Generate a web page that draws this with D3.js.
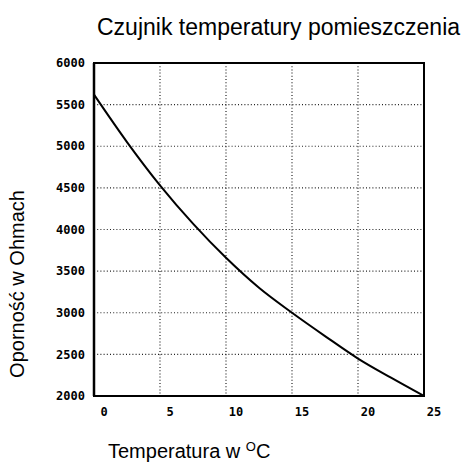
<!DOCTYPE html>
<html>
<head>
<meta charset="utf-8" />
<title>Czujnik temperatury pomieszczenia</title>
<style>
html, body {
	margin:0;
	padding:0;
	background:#ffffff;
}
svg {
	display:block;
	font-family: 'Liberation Sans', Arial, sans-serif;
}
.tick-label {
	font-family: 'DejaVu Sans Mono', monospace;
	font-weight: bold;
	font-size: 12px;
	fill: #000;
}
</style>
</head>
<body>

<script src="https://cdn.jsdelivr.net/npm/d3@7/dist/d3.min.js"></script>
<script>

//=======================================
// data
//=======================================

let temps       = [0, 2.5, 5, 7.5, 10, 12.5, 15, 17.5, 20, 22.5, 25];
let resistances = [5620, 5050, 4530, 4070, 3660, 3300, 3000, 2720, 2450, 2220, 2000];

let xTicks = [0, 5, 10, 15, 20, 25];
let yTicks = [2000, 2500, 3000, 3500, 4000, 4500, 5000, 5500, 6000];

let title  = 'Czujnik temperatury pomieszczenia',
		yTitle = 'Oporność w Ohmach',
		xTitle = 'Temperatura w ';


//=======================================
// chart
//=======================================

let width = 473,
		height = 464,
		margin = {top:63, left:94, right:49, bottom:68},
		w = width - margin.left - margin.right,
		h = height - margin.top - margin.bottom;

let x = d3.scaleLinear().domain([0,25]).range([0,w]),
		y = d3.scaleLinear().domain([2000,6000]).range([h,0]);

let data = temps.map((t,i)=>({t:t, r:resistances[i]}));

let svg = d3.select('body')
	.append('svg')
		.attr('width', width)
		.attr('height', height);

let g = svg.append('g')
	.attr('transform','translate('+[margin.left, margin.top]+')');


// grid
g.append('g').attr('class','grid')
	.call(sel=>{

		sel.selectAll('line.gx').data(xTicks.slice(1,-1))
			.enter()
				.append('line')
					.attr('class','gx')
					.attr('x1',d=>x(d)).attr('x2',d=>x(d))
					.attr('y1',0).attr('y2',h);

		sel.selectAll('line.gy').data(yTicks.slice(1,-1))
			.enter()
				.append('line')
					.attr('class','gy')
					.attr('x1',0).attr('x2',w)
					.attr('y1',d=>y(d)).attr('y2',d=>y(d));

		sel.selectAll('line')
			.attr('stroke','#222')
			.attr('stroke-width',1.2)
			.attr('stroke-dasharray','1 2.2');
	});


// frame
g.append('rect')
	.attr('x',0).attr('y',0)
	.attr('width',w).attr('height',h)
	.attr('fill','none')
	.attr('stroke','#000')
	.attr('stroke-width',2);

g.append('line')
	.attr('x1',0).attr('x2',0)
	.attr('y1',0).attr('y2',h)
	.attr('stroke','#000')
	.attr('stroke-width',2.5);


// curve
g.append('path')
	.datum(data)
	.attr('d', d3.line()
		.x(d=>x(d.t))
		.y(d=>y(d.r))
		.curve(d3.curveMonotoneX))
	.attr('fill','none')
	.attr('stroke','#000')
	.attr('stroke-width',2);


// tick labels
g.append('g').attr('class','y-labels')
	.selectAll('text').data(yTicks)
		.enter()
			.append('text')
				.attr('class','tick-label')
				.attr('x',-9)
				.attr('y',d=>y(d))
				.attr('dy','0.35em')
				.attr('text-anchor','end')
				.text(d=>d);

g.append('g').attr('class','x-labels')
	.selectAll('text').data(xTicks)
		.enter()
			.append('text')
				.attr('class','tick-label')
				.attr('x',d=>x(d)+10)
				.attr('y',h+20)
				.attr('text-anchor','middle')
				.text(d=>d);


// titles
svg.append('text')
	.attr('x',97)
	.attr('y',35)
	.attr('font-size',23)
	.attr('fill','#000')
	.text(title);

svg.append('text')
	.attr('transform','translate('+[24, 284]+') rotate(-90)')
	.attr('text-anchor','middle')
	.attr('font-size',20)
	.attr('fill','#000')
	.text(yTitle);

svg.append('text')
	.attr('x',108)
	.attr('y',458)
	.attr('font-size',20)
	.attr('fill','#000')
	.call(sel=>{
		sel.append('tspan').text(xTitle);
		sel.append('tspan').attr('font-size',13).attr('dy',-7).text('O');
		sel.append('tspan').attr('dy',7).text('C');
	});

</script>

</body>
</html>
